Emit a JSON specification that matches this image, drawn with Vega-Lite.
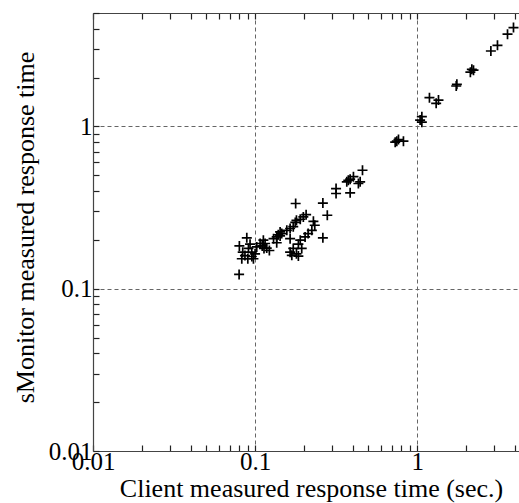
{
  "$schema": "https://vega.github.io/schema/vega-lite/v6.json",
  "autosize": {"type": "none"},
  "padding": {"left": 93, "top": 13, "right": 0, "bottom": 52},
  "width": 426,
  "height": 438,
  "background": "white",
  "config": {
    "view": {"stroke": null},
    "axis": {
      "labelFont": "Liberation Serif",
      "labelFontSize": 25,
      "labelColor": "black",
      "titleFont": "Liberation Serif",
      "titleFontSize": 26,
      "titleFontWeight": "normal",
      "titleColor": "black",
      "domainColor": "#444",
      "domainWidth": 1.2,
      "tickColor": "#222",
      "tickWidth": 1.2,
      "labelOverlap": false,
      "labelFlush": false,
      "labelBound": false,
      "gridColor": "#666",
      "gridDash": [4, 3],
      "gridWidth": 1
    }
  },
  "data": {
    "values": [
      {"client": 0.0797, "smonitor": 0.1225},
      {"client": 0.080, "smonitor": 0.1835},
      {"client": 0.0889, "smonitor": 0.206},
      {"client": 0.0828, "smonitor": 0.153},
      {"client": 0.0839, "smonitor": 0.168},
      {"client": 0.091, "smonitor": 0.177},
      {"client": 0.0954, "smonitor": 0.168},
      {"client": 0.0977, "smonitor": 0.153},
      {"client": 0.0902, "smonitor": 0.153},
      {"client": 0.0931, "smonitor": 0.188},
      {"client": 0.1, "smonitor": 0.164},
      {"client": 0.1024, "smonitor": 0.181},
      {"client": 0.1074, "smonitor": 0.19},
      {"client": 0.1125, "smonitor": 0.199},
      {"client": 0.1153, "smonitor": 0.19},
      {"client": 0.1107, "smonitor": 0.1835},
      {"client": 0.118, "smonitor": 0.178},
      {"client": 0.1225, "smonitor": 0.172},
      {"client": 0.1135, "smonitor": 0.177},
      {"client": 0.13, "smonitor": 0.2035},
      {"client": 0.136, "smonitor": 0.2085},
      {"client": 0.1427, "smonitor": 0.224},
      {"client": 0.136, "smonitor": 0.192},
      {"client": 0.139, "smonitor": 0.215},
      {"client": 0.0866, "smonitor": 0.16},
      {"client": 0.0955, "smonitor": 0.158},
      {"client": 0.1427, "smonitor": 0.2116},
      {"client": 0.146, "smonitor": 0.2186},
      {"client": 0.157, "smonitor": 0.229},
      {"client": 0.1645, "smonitor": 0.235},
      {"client": 0.172, "smonitor": 0.241},
      {"client": 0.177, "smonitor": 0.256},
      {"client": 0.18, "smonitor": 0.264},
      {"client": 0.19, "smonitor": 0.268},
      {"client": 0.1985, "smonitor": 0.277},
      {"client": 0.2065, "smonitor": 0.286},
      {"client": 0.178, "smonitor": 0.335},
      {"client": 0.1645, "smonitor": 0.2035},
      {"client": 0.2035, "smonitor": 0.2085},
      {"client": 0.19, "smonitor": 0.199},
      {"client": 0.185, "smonitor": 0.188},
      {"client": 0.172, "smonitor": 0.177},
      {"client": 0.194, "smonitor": 0.177},
      {"client": 0.1645, "smonitor": 0.168},
      {"client": 0.18, "smonitor": 0.164},
      {"client": 0.1685, "smonitor": 0.1606},
      {"client": 0.185, "smonitor": 0.159},
      {"client": 0.229, "smonitor": 0.26},
      {"client": 0.2335, "smonitor": 0.246},
      {"client": 0.224, "smonitor": 0.229},
      {"client": 0.2125, "smonitor": 0.2186},
      {"client": 0.262, "smonitor": 0.337},
      {"client": 0.279, "smonitor": 0.2835},
      {"client": 0.262, "smonitor": 0.206},
      {"client": 0.316, "smonitor": 0.414},
      {"client": 0.316, "smonitor": 0.386},
      {"client": 0.386, "smonitor": 0.39},
      {"client": 0.368, "smonitor": 0.456},
      {"client": 0.376, "smonitor": 0.466},
      {"client": 0.386, "smonitor": 0.473},
      {"client": 0.4045, "smonitor": 0.49},
      {"client": 0.445, "smonitor": 0.456},
      {"client": 0.434, "smonitor": 0.445},
      {"client": 0.46, "smonitor": 0.537},
      {"client": 0.749, "smonitor": 0.811},
      {"client": 0.732, "smonitor": 0.8},
      {"client": 0.823, "smonitor": 0.811},
      {"client": 0.767, "smonitor": 0.83},
      {"client": 1.069, "smonitor": 1.148},
      {"client": 1.069, "smonitor": 1.063},
      {"client": 1.043, "smonitor": 1.094},
      {"client": 1.191, "smonitor": 1.504},
      {"client": 1.31, "smonitor": 1.387},
      {"client": 1.354, "smonitor": 1.454},
      {"client": 1.758, "smonitor": 1.817},
      {"client": 1.742, "smonitor": 1.775},
      {"client": 2.175, "smonitor": 2.248},
      {"client": 2.13, "smonitor": 2.16},
      {"client": 2.227, "smonitor": 2.22},
      {"client": 2.85, "smonitor": 2.917},
      {"client": 3.13, "smonitor": 3.16},
      {"client": 3.61, "smonitor": 3.7},
      {"client": 3.93, "smonitor": 4.065}
    ]
  },
  "resolve": {"axis": {"x": "independent"}},
  "layer": [
    {
      "mark": {
        "type": "point",
        "shape": "M-1,0H1M0,-1V1",
        "filled": false,
        "size": 100,
        "stroke": "black",
        "strokeWidth": 1.7,
        "opacity": 1
      },
      "encoding": {
        "x": {
          "field": "client",
          "type": "quantitative",
          "scale": {"type": "log", "domain": [0.01, 4.25], "nice": false},
          "axis": {
            "orient": "bottom",
            "title": "Client measured response time (sec.)",
            "titleX": 218,
            "titleY": 45,
            "titleBaseline": "alphabetic",
            "titleAlign": "center",
            "values": [0.01, 0.02, 0.03, 0.04, 0.05, 0.06, 0.07, 0.08, 0.09, 0.1, 0.2, 0.3, 0.4, 0.5, 0.6, 0.7, 0.8, 0.9, 1, 2, 3, 4],
            "labelExpr": "datum.value == 0.01 ? '0.01' : datum.value == 0.1 ? '0.1' : datum.value == 1 ? '1' : ''",
            "tickSize": -6,
            "labelPadding": 4,
            "labelBaseline": "top",
            "grid": true,
            "gridOpacity": {"condition": {"test": "datum.value == 0.1 || datum.value == 1", "value": 1}, "value": 0}
          }
        },
        "y": {
          "field": "smonitor",
          "type": "quantitative",
          "scale": {"type": "log", "domain": [0.01, 5], "nice": false},
          "axis": {
            "orient": "left",
            "title": "sMonitor measured response time",
            "titleX": -60,
            "titleY": 214,
            "titleAngle": 270,
            "titleBaseline": "alphabetic",
            "titleAlign": "center",
            "values": [0.01, 0.02, 0.03, 0.04, 0.05, 0.06, 0.07, 0.08, 0.09, 0.1, 0.2, 0.3, 0.4, 0.5, 0.6, 0.7, 0.8, 0.9, 1, 2, 3, 4, 5],
            "labelExpr": "datum.value == 0.01 ? '0.01' : datum.value == 0.1 ? '0.1' : datum.value == 1 ? '1' : ''",
            "tickSize": -6,
            "labelPadding": 7,
            "labelBaseline": "middle",
            "grid": true,
            "gridOpacity": {"condition": {"test": "datum.value == 0.1 || datum.value == 1", "value": 1}, "value": 0}
          }
        }
      }
    },
    {
      "mark": {"type": "point", "opacity": 0},
      "encoding": {
        "x": {
          "field": "client",
          "type": "quantitative",
          "axis": {
            "orient": "top",
            "title": null,
            "values": [0.01, 0.02, 0.03, 0.04, 0.05, 0.06, 0.07, 0.08, 0.09, 0.1, 0.2, 0.3, 0.4, 0.5, 0.6, 0.7, 0.8, 0.9, 1, 2, 3, 4],
            "labels": false,
            "tickSize": -6,
            "grid": false
          }
        },
        "y": {"field": "smonitor", "type": "quantitative"}
      }
    }
  ]
}
